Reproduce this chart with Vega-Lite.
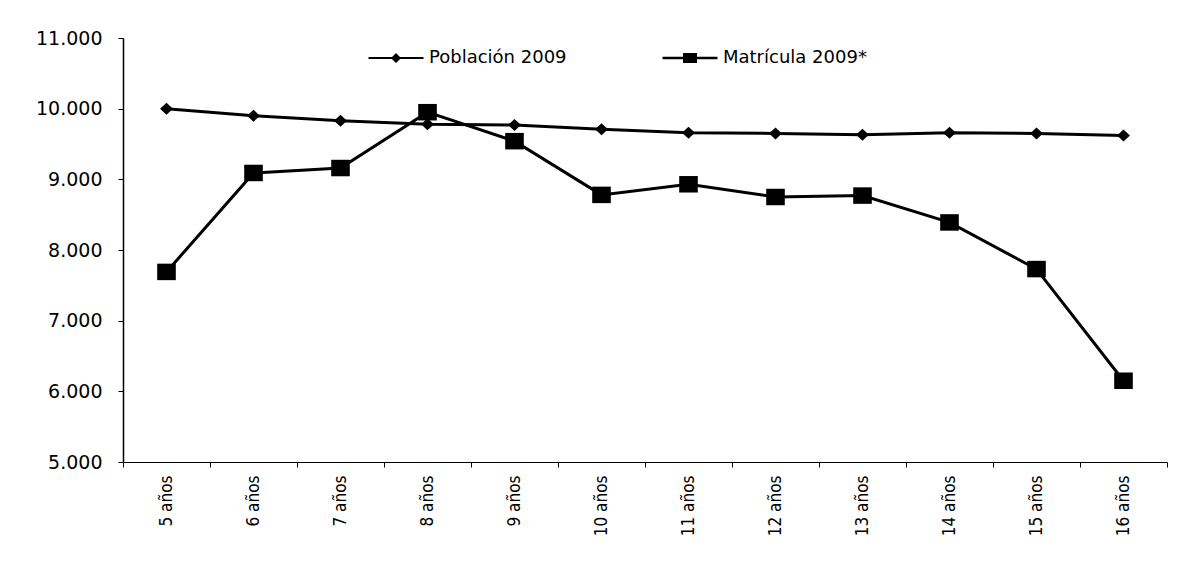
{
  "$schema": "https://vega.github.io/schema/vega-lite/v6.json",
  "width": 1044,
  "height": 424,
  "autosize": {"type": "none"},
  "padding": {"left": 123, "top": 38, "right": 20, "bottom": 105},
  "background": "white",
  "config": {
    "view": {"stroke": null},
    "font": "DejaVu Sans"
  },
  "data": {
    "values": [
      {"edad": "5 años", "serie": "Población 2009", "valor": 10000},
      {"edad": "6 años", "serie": "Población 2009", "valor": 9900},
      {"edad": "7 años", "serie": "Población 2009", "valor": 9830},
      {"edad": "8 años", "serie": "Población 2009", "valor": 9780},
      {"edad": "9 años", "serie": "Población 2009", "valor": 9770},
      {"edad": "10 años", "serie": "Población 2009", "valor": 9710},
      {"edad": "11 años", "serie": "Población 2009", "valor": 9660},
      {"edad": "12 años", "serie": "Población 2009", "valor": 9650},
      {"edad": "13 años", "serie": "Población 2009", "valor": 9630},
      {"edad": "14 años", "serie": "Población 2009", "valor": 9660},
      {"edad": "15 años", "serie": "Población 2009", "valor": 9650},
      {"edad": "16 años", "serie": "Población 2009", "valor": 9620},
      {"edad": "5 años", "serie": "Matrícula 2009*", "valor": 7690},
      {"edad": "6 años", "serie": "Matrícula 2009*", "valor": 9090},
      {"edad": "7 años", "serie": "Matrícula 2009*", "valor": 9160},
      {"edad": "8 años", "serie": "Matrícula 2009*", "valor": 9950},
      {"edad": "9 años", "serie": "Matrícula 2009*", "valor": 9540},
      {"edad": "10 años", "serie": "Matrícula 2009*", "valor": 8780},
      {"edad": "11 años", "serie": "Matrícula 2009*", "valor": 8930},
      {"edad": "12 años", "serie": "Matrícula 2009*", "valor": 8750},
      {"edad": "13 años", "serie": "Matrícula 2009*", "valor": 8770},
      {"edad": "14 años", "serie": "Matrícula 2009*", "valor": 8390},
      {"edad": "15 años", "serie": "Matrícula 2009*", "valor": 7730},
      {"edad": "16 años", "serie": "Matrícula 2009*", "valor": 6150}
    ]
  },
  "encoding": {
    "x": {
      "field": "edad",
      "type": "ordinal",
      "sort": null,
      "scale": {"type": "band", "paddingInner": 0, "paddingOuter": 0},
      "axis": {
        "title": null,
        "labelAngle": 270,
        "labelFont": "DejaVu Sans Condensed, Roboto, sans-serif",
        "labelFontSize": 17,
        "labelColor": "black",
        "labelPadding": 8,
        "tickBand": "extent",
        "tickSize": 5,
        "tickColor": "black",
        "domainColor": "black",
        "domainWidth": 1,
        "grid": false
      }
    },
    "y": {
      "field": "valor",
      "type": "quantitative",
      "scale": {"domain": [5000, 11000], "nice": false, "zero": false},
      "axis": {
        "title": null,
        "values": [5000, 6000, 7000, 8000, 9000, 10000, 11000],
        "labelExpr": "replace(format(datum.value, ','), ',', '.')",
        "labelFont": "DejaVu Sans",
        "labelFontSize": 19,
        "labelColor": "black",
        "labelPadding": 16,
        "tickSize": 5,
        "tickColor": "black",
        "domainColor": "black",
        "domainWidth": 1.5,
        "grid": false
      }
    }
  },
  "layer": [
    {
      "mark": {"type": "line", "color": "black", "strokeWidth": 3},
      "encoding": {"detail": {"field": "serie"}}
    },
    {
      "mark": {"type": "point", "filled": true, "color": "black", "opacity": 1, "size": 900},
      "encoding": {
        "shape": {
          "field": "serie",
          "type": "nominal",
          "scale": {
            "domain": ["Población 2009", "Matrícula 2009*"],
            "range": [
              "M0,-0.4L0.43,0L0,0.4L-0.43,0Z",
              "M-0.62,-0.55H0.62V0.55H-0.62Z"
            ]
          },
          "legend": null
        }
      }
    },
    {
      "transform": [{"filter": "datum.valor < 0"}],
      "mark": {"type": "point", "filled": true, "color": "black", "opacity": 1},
      "encoding": {
        "shape": {
          "field": "serie",
          "type": "nominal",
          "scale": {
            "domain": ["Población 2009", "Matrícula 2009*"],
            "range": [
              "M-2.75,-0.1H2.75V0.1H-2.75Z M0,-0.5L0.5,0L0,0.5L-0.5,0Z",
              "M-2.75,-0.12H2.75V0.12H-2.75Z M-0.7,-0.5H0.7V0.5H-0.7Z"
            ]
          },
          "legend": {
            "title": null,
            "orient": "none",
            "legendX": 263,
            "legendY": 10,
            "direction": "horizontal",
            "columns": 2,
            "columnPadding": 95,
            "symbolSize": 400,
            "symbolFillColor": "black",
            "symbolStrokeWidth": 0,
            "symbolOpacity": 1,
            "labelFont": "DejaVu Sans",
            "labelFontSize": 18,
            "labelColor": "black",
            "labelOffset": 23
          }
        }
      }
    }
  ],
  "resolve": {"scale": {"shape": "independent"}, "legend": {"shape": "independent"}}
}
